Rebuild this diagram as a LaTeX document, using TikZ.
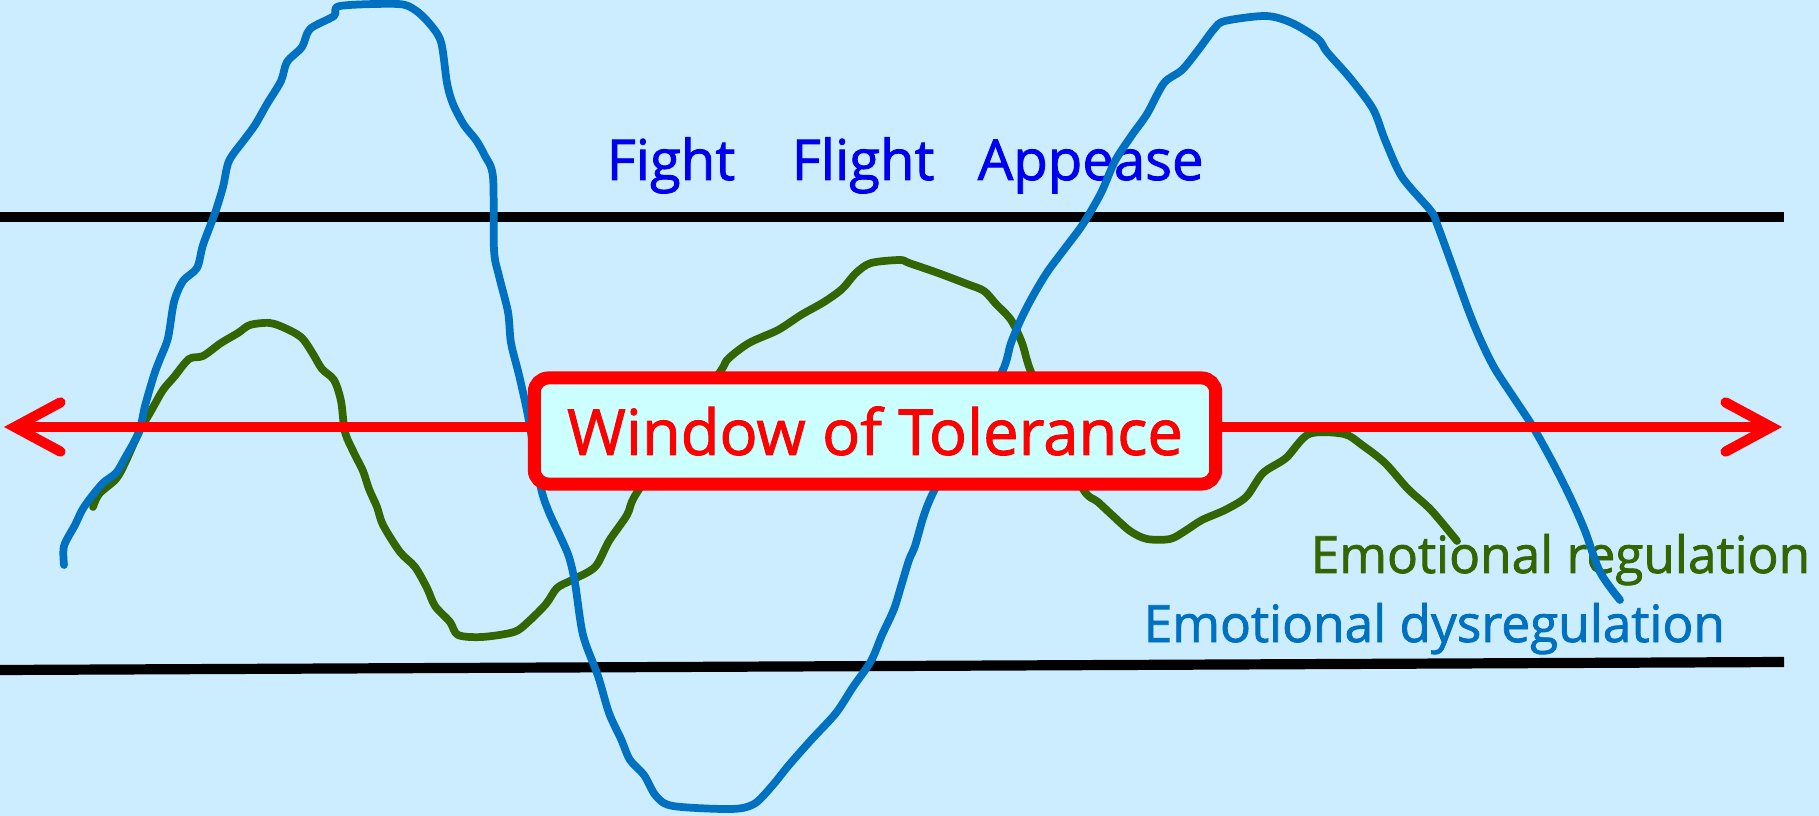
\documentclass[tikz,border=0pt]{standalone}
\usepackage{fontspec}
\setmainfont{Open Sans}
\newfontfamily\handfont{Open Sans}[FakeBold=1.5]
\usepackage{tikz}
\usetikzlibrary{arrows.meta,positioning}
\definecolor{skyblue}{RGB}{204,236,255}
\definecolor{dysblue}{RGB}{0,112,192}
\definecolor{reggreen}{RGB}{51,102,0}
\definecolor{labelblue}{RGB}{0,0,240}
\definecolor{winred}{RGB}{255,0,0}
\definecolor{winfill}{RGB}{204,255,255}
\tikzset{
  base/.style={inner sep=0pt, anchor=base west},
  fflabel/.style={base, text=labelblue, font=\handfont\fontsize{16}{18}\selectfont},
  emolabel/.style={base, font=\handfont\fontsize{14.6}{16}\selectfont},
  limit/.style={line width=2.9pt, draw=black},
  curve/.style={line width=2.2pt, line cap=round, line join=round},
  regcurve/.style={curve, draw=reggreen},
  dyscurve/.style={curve, draw=dysblue},
  arr2/.style={line width=2.9pt, draw=winred, line cap=round,
    arrows={Straight Barb[length=13pt,width=14pt,line cap=round]-Straight Barb[length=13pt,width=14pt,line cap=round]}},
  window/.style={rectangle, rounded corners=4pt, draw=winred, fill=winfill, line width=3.7pt,
    minimum width=6.81cm, minimum height=1.06cm, inner sep=0pt, text=winred, font=\handfont\fontsize{18}{20}\selectfont},
}
\begin{document}
\begin{tikzpicture}[x=0.01cm,y=-0.01cm]
  % background
  \fill[skyblue] (0,0) rectangle (1819,816);
  \useasboundingbox (0,0) rectangle (1819,816);
  % limits of the window
  \draw[limit] (0,217) -- (1784,217);
  \draw[limit] (0,670) -- (1784,662);
  % labels
  \node[fflabel] (fight) at (606,180) {Fight};
  \node[fflabel] (flight) at (791,180) {Flight};
  \node[fflabel] (appease) at (977,180) {Appease};
  \node[emolabel,text=reggreen] (reg) at (1310,573) {Emotional regulation};
  \node[emolabel,text=dysblue] (dysreg) at (1143,642) {Emotional dysregulation};
  % regulation
  \draw[regcurve] plot[smooth,tension=0.5] coordinates {(93,507) (99,494) (116,479) (125,463) (139,432) (151,411) (163,390) (174,377) (189,359) (203,356) (221,343) (238,333) (250,325) (270,323) (287,329) (302,338) (313,354) (322,369) (334,380) (341,401) (345,432) (354,453) (363,471) (369,489) (377,507) (383,525) (400,552) (415,567) (427,588) (435,606) (450,622) (458,635) (482,637) (514,632) (528,622) (546,604) (557,588) (572,580) (595,567) (609,541) (627,515) (636,494) (678,433) (720,372) (728,359) (749,343) (778,330) (801,315) (824,302) (842,289) (856,273) (871,263) (900,260) (909,263) (938,273) (967,284) (984,291) (996,304) (1011,320) (1022,343) (1031,372) (1057,430) (1083,489) (1098,502) (1112,515) (1130,531) (1147,539) (1170,539) (1185,531) (1202,520) (1225,510) (1246,497) (1263,473) (1286,458) (1309,434) (1344,434) (1362,445) (1385,463) (1408,489) (1431,510) (1457,541)};
  % dysregulation
  \draw[dyscurve] plot[smooth,tension=0.5] coordinates {(64,565) (64,546) (75,525) (84,507) (102,484) (116,473) (125,458) (139,432) (145,406) (154,375) (160,359) (168,338) (174,302) (183,281) (197,268) (203,245) (215,213) (223,187) (229,161) (244,140) (255,125) (267,104) (281,81) (287,62) (302,47) (310,29) (334,16) (340,6) (398,4) (415,10) (429,23) (441,42) (447,83) (453,104) (464,125) (476,140) (485,156) (493,177) (494,250) (499,276) (508,312) (511,343) (519,375) (528,416) (540,484) (548,510) (560,536) (569,557) (575,583) (583,635) (598,676) (609,713) (621,739) (630,760) (644,775) (656,796) (673,806) (731,809) (754,804) (772,786) (789,765) (812,739) (836,713) (853,687) (871,661) (882,635) (894,609) (902,583) (909,560) (915,546) (924,515) (935,489) (968,430) (1002,372) (1011,343) (1022,317) (1034,294) (1048,271) (1066,247) (1083,224) (1101,193) (1115,161) (1132,135) (1147,114) (1164,83) (1182,70) (1199,49) (1214,29) (1225,21) (1266,16) (1292,23) (1318,39) (1327,52) (1350,78) (1373,109) (1385,140) (1402,177) (1431,211) (1437,224) (1452,265) (1469,312) (1481,341) (1495,369) (1516,401) (1533,427) (1553,463) (1571,499) (1585,531) (1600,572) (1620,600)};
  % window of tolerance
  \coordinate (wl) at (4,427);
  \coordinate (wr) at (1782,427);
  \draw[arr2] (wl) -- (wr);
  \node[window] (win) at (875,431) {Window of Tolerance};
\end{tikzpicture}
\end{document}
